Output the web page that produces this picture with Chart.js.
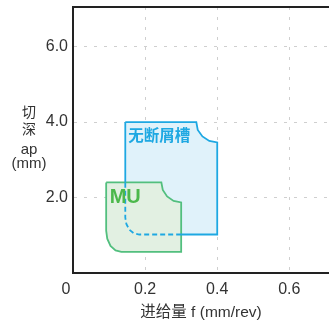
<!DOCTYPE html>
<html><head><meta charset="utf-8">
<script src="https://cdn.jsdelivr.net/npm/chart.js@4"></script>
<style>html,body{margin:0;padding:0;background:#fff}#wrap{width:329px;height:323px}</style>
</head><body><div id="wrap"><canvas id="c" width="329" height="323"></canvas></div>
<script>
// ---- data ----
const xTicks = [0.2, 0.4, 0.6];
const xTickLabels = ['0.2', '0.4', '0.6'];
const yTicks = [2, 4, 6];
const yTickLabels = ['2.0', '4.0', '6.0'];
const originLabel = '0';
const xTitle = '进给量 f (mm/rev)';
const yTitleLines = ['切', '深', 'ap', '(mm)'];
const seriesNames = ['无断屑槽', 'MU'];
// 无断屑槽 region outline: feed f (mm/rev), depth ap (mm)
const blueF  = [0.145, 0.342, 0.346, 0.359, 0.378, 0.400, 0.400, 0.300, 0.184, 0.169, 0.156, 0.148, 0.145, 0.145, 0.145];
const blueAp = [4.00,  4.00,  3.79,  3.62,  3.50,  3.46,  1.02,  1.02,  1.02,  1.05,  1.15,  1.30,  1.47,  2.40,  4.00];
// MU region outline
const greenF  = [0.092, 0.245, 0.249, 0.261, 0.279, 0.300, 0.300, 0.134, 0.118, 0.104, 0.095, 0.092, 0.092];
const greenAp = [2.40,  2.40,  2.20,  2.03,  1.91,  1.87,  0.56,  0.56,  0.60,  0.72,  0.91,  1.12,  2.40];

// ---- styles ----
const blueLine = '#1ea8e2', blueFill = '#e0f2fa';
const greenLine = '#52bf7e', greenFill = '#e2f0e2', muText = '#4cb84c';
const textCol = '#333';
const LAT = "'Liberation Sans', Arial, 'Noto Sans CJK SC', sans-serif";

const pts = (xs, ys) => xs.map((v, i) => ({x: v, y: ys[i]}));
const gMaxF = Math.max(...greenF), gMaxAp = Math.max(...greenAp);
const insideGreen = ctx => {
  const a = ctx.p0DataIndex, b = ctx.p1DataIndex;
  return blueF[a] <= gMaxF && blueF[b] <= gMaxF && blueAp[a] <= gMaxAp && blueAp[b] <= gMaxAp;
};

const annot = {
  id: 'annot',
  afterDatasetsDraw(chart) {
    const {ctx, scales: {x, y}} = chart;
    ctx.save();
    ctx.textBaseline = 'middle'; ctx.textAlign = 'left';
    ctx.fillStyle = blueLine;
    ctx.font = "bold 15.5px 'Noto Sans CJK SC', sans-serif";
    ctx.fillText(seriesNames[0], x.getPixelForValue(blueF[0]) + 3, y.getPixelForValue(blueAp[0]) + 13);
    ctx.fillStyle = muText;
    ctx.font = "bold 20px 'Liberation Sans', Arial, sans-serif";
    ctx.fillText(seriesNames[1], x.getPixelForValue(greenF[0]) + 3.5, y.getPixelForValue(greenAp[0]) + 15);
    ctx.restore();
  },
  afterDraw(chart) {
    const {ctx, scales: {x}} = chart;
    ctx.save();
    ctx.fillStyle = textCol;
    ctx.textAlign = 'center'; ctx.textBaseline = 'middle';
    ctx.font = '16px ' + LAT;
    ctx.fillText(originLabel, x.getPixelForValue(0) - 7, x.top + 17);
    const ys = [112, 129, 149.5, 163.5];
    yTitleLines.forEach((t, i) => {
      ctx.font = (i < 2 ? "14px 'Noto Sans CJK SC', sans-serif" : '15px ' + LAT);
      ctx.fillText(t, 29, ys[i]);
    });
    ctx.restore();
  }
};

const gridCommon = {color: '#cfcfcf', lineWidth: 1, drawTicks: false};
const borderCommon = {display: true, color: '#222', width: 2, dash: [3, 7]};
const tickFont = {family: LAT, size: 16};

new Chart(document.getElementById('c'), {
  type: 'line',
  data: {datasets: [
    {label: seriesNames[0] + ' outline', data: pts(blueF, blueAp), borderColor: blueLine, borderWidth: 1.8,
     fill: false, pointRadius: 0, tension: 0, order: 0,
     segment: {borderDash: ctx => insideGreen(ctx) ? [5, 3] : undefined}},
    {label: seriesNames[1], data: pts(greenF, greenAp), borderColor: greenLine, backgroundColor: greenFill,
     borderWidth: 1.8, fill: 'shape', pointRadius: 0, tension: 0, order: 1},
    {label: seriesNames[0], data: pts(blueF, blueAp), borderWidth: 0, borderColor: 'rgba(0,0,0,0)',
     backgroundColor: blueFill, fill: 'shape', pointRadius: 0, tension: 0, order: 2}
  ]},
  options: {
    responsive: false, animation: false, devicePixelRatio: 1,
    layout: {padding: {top: 7, right: 0, left: 0, bottom: 0}},
    plugins: {legend: {display: false}, tooltip: {enabled: false}},
    scales: {
      x: {type: 'linear', position: 'bottom', min: 0, max: 0.71,
          afterBuildTicks: s => { s.ticks = xTicks.map(v => ({value: v})); },
          afterFit: s => { s.height = 50; s.paddingLeft = 0; s.paddingRight = 0; },
          ticks: {callback: (v, i) => xTickLabels[i], padding: 7, font: tickFont, color: textCol, maxRotation: 0, autoSkip: false},
          grid: gridCommon, border: borderCommon,
          title: {display: true, text: xTitle, color: textCol, font: {family: LAT, size: 15.5}, padding: {top: 0, bottom: 1}}},
      x2: {type: 'linear', position: 'top', min: 0, max: 0.71, display: true,
           afterFit: s => { s.height = 0; s.paddingLeft = 0; s.paddingRight = 0; },
           grid: {display: false, drawTicks: false}, ticks: {display: false},
           border: {display: true, color: '#222', width: 2}},
      y: {type: 'linear', min: 0, max: 7.05,
          afterBuildTicks: s => { s.ticks = yTicks.map(v => ({value: v})); },
          afterFit: s => { s.width = 73; s.paddingTop = 0; s.paddingBottom = 0; },
          ticks: {callback: (v, i) => yTickLabels[i], padding: 5, font: tickFont, color: textCol},
          grid: gridCommon, border: borderCommon}
    }
  },
  plugins: [annot]
});
</script>
</body></html>
